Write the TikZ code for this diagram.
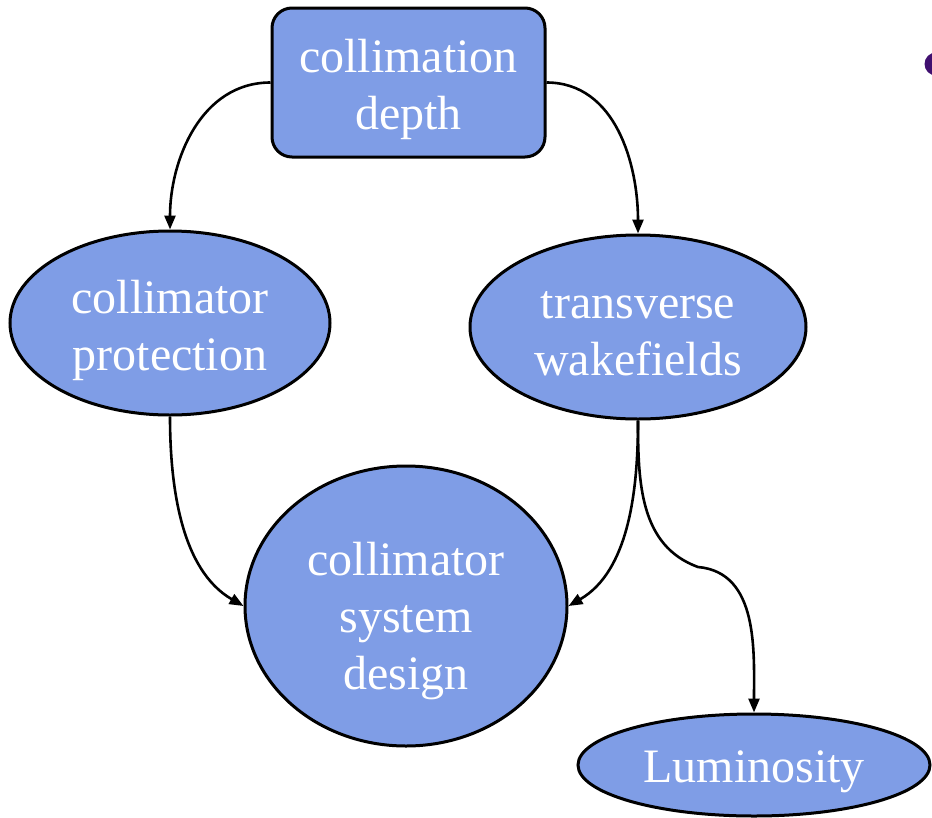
\documentclass[tikz,border=0pt]{standalone}
\usepackage{fontspec}
\setmainfont{Liberation Serif}
\usetikzlibrary{shapes.geometric,arrows.meta}
\definecolor{boxblue}{RGB}{127,157,230}
\definecolor{bulletpurple}{RGB}{64,16,112}
\tikzset{
  blob/.style={draw=black, line width=3pt, fill=boxblue, inner sep=0pt},
  oval/.style={blob, ellipse},
  label/.style={text=white, align=center, inner sep=0pt, font=\fontsize{48}{57}\selectfont},
  link/.style={draw=black, line width=2.6pt, -{Triangle[length=14pt,width=11pt]}}
}
\begin{document}
\begin{tikzpicture}[x=1pt,y=-1pt]
\useasboundingbox (0,0) rectangle (932,817);
\begin{scope}
\clip (0,0) rectangle (932,817);
\fill[bulletpurple] (936,64) circle (11.5);
\end{scope}
\node[blob, rounded corners=20pt, minimum width=273pt, minimum height=149pt] (depth) at (408.5,82.5) {};
\node[label] (depthtext) at (408.5,89) {collimation\\depth};
\node[oval, minimum width=320pt, minimum height=184pt] (prot) at (170,323) {};
\node[label] (prottext) at (170,330) {collimator\\protection};
\node[oval, minimum width=336pt, minimum height=184pt] (wake) at (638,327) {};
\node[label] (waketext) at (638,334) {transverse\\wakefields};
\node[oval, minimum width=322pt, minimum height=280pt] (sys) at (406,606) {};
\node[label] (systext) at (406,621) {collimator\\system\\design};
\node[oval, minimum width=352pt, minimum height=102pt] (lumi) at (754,765) {};
\node[label] (lumitext) at (754,772) {Luminosity};
\coordinate (bend) at (698,567);
\draw[link] (depth.west) to[out=180,in=90] (prot.north);
\draw[link] (depth.east) to[out=0,in=90] (wake.north);
\draw[link] (prot.south) to[out=-90,in=150,looseness=0.9] (sys.west);
\draw[link] (wake.south) to[out=-90,in=30,looseness=0.9] (sys.east);
\draw[link] (wake.south) to[out=-90,in=160] (bend) to[out=-5,in=90] (lumi.north);
\end{tikzpicture}
\end{document}
